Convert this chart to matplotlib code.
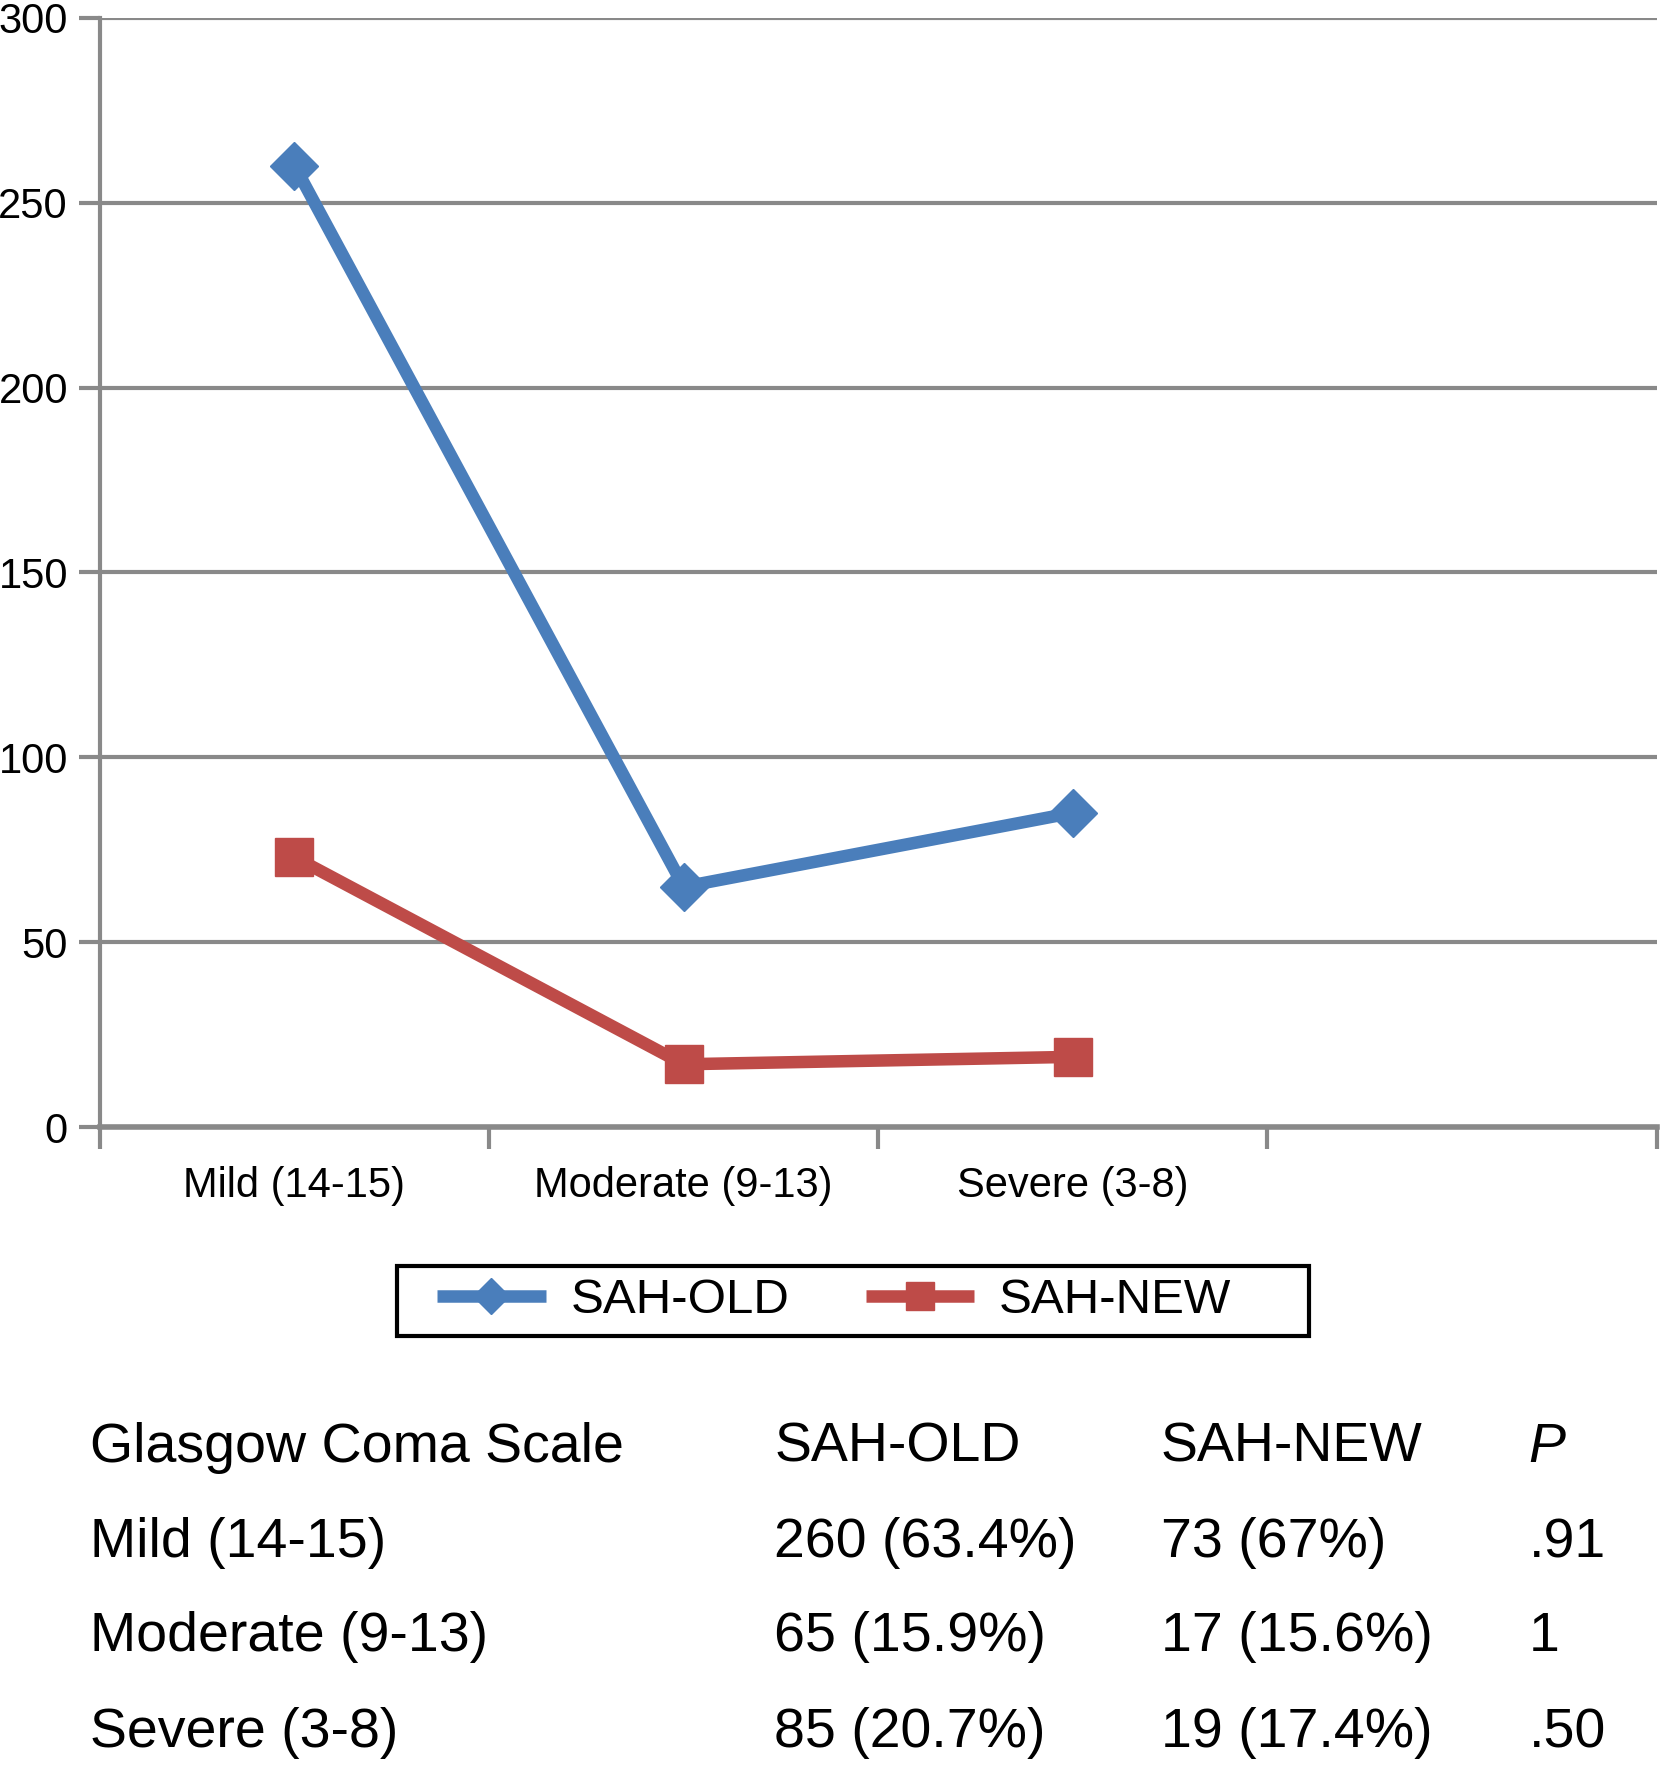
import numpy as np
import matplotlib.pyplot as plt
from matplotlib.patches import Rectangle

plt.rcParams['font.family'] = ['Liberation Sans', 'DejaVu Sans']

# data
categories = ['Mild (14-15)', 'Moderate (9-13)', 'Severe (3-8)']
sah_old = [260, 65, 85]
sah_new = [73, 17, 19]
yticks = [0, 50, 100, 150, 200, 250, 300]

# table below the chart
table_header = ['Glasgow Coma Scale', 'SAH-OLD', 'SAH-NEW', 'P']
table_rows = [
    ['Mild (14-15)', '260 (63.4%)', '73 (67%)', '.91'],
    ['Moderate (9-13)', '65 (15.9%)', '17 (15.6%)', '1'],
    ['Severe (3-8)', '85 (20.7%)', '19 (17.4%)', '.50'],
]

grey = '#898989'
blue = '#4A7EBB'
red = '#BE4B48'

fig = plt.figure(figsize=(16.65, 17.75), dpi=100)
ax = fig.add_axes([0.060, 0.365, 0.935, 0.625])

x = np.arange(len(categories))
ax.plot(x, sah_old, color=blue, lw=9, marker='D', markersize=24,
        label='SAH-OLD', solid_capstyle='butt')
ax.plot(x, sah_new, color=red, lw=9, marker='s', markersize=27,
        label='SAH-NEW', solid_capstyle='butt')

ax.set_xlim(-0.5, 3.5)
ax.set_ylim(0, 300)
ax.set_yticks(yticks)
ax.set_yticklabels([str(v) for v in yticks], fontsize=30)
ax.set_xticks(x)
ax.set_xticklabels(categories, fontsize=30)
ax.set_xticks(np.arange(-0.5, 4.0, 1.0), minor=True)
ax.tick_params(axis='x', which='major', length=0, pad=28)
ax.tick_params(axis='x', which='minor', length=16, width=3, color=grey)
ax.tick_params(axis='y', length=15, width=3, color=grey, pad=8)

ax.yaxis.grid(True, color=grey, lw=3)
ax.set_axisbelow(True)
for s in ['top', 'right']:
    ax.spines[s].set_visible(False)
ax.spines['left'].set_color(grey)
ax.spines['left'].set_linewidth(3)
ax.spines['bottom'].set_color(grey)
ax.spines['bottom'].set_linewidth(4)

# legend frame drawn separately (extra room on the right as in the original)
fig.patches.append(Rectangle((0.2385, 0.2476), 0.5477, 0.0394,
                             transform=fig.transFigure, fill=False,
                             edgecolor='black', lw=3))
fig.legend(loc='center', bbox_to_anchor=(0.5010, 0.2673), ncol=2,
           fontsize=35.5, frameon=False, handlelength=2.2,
           columnspacing=1.55, handletextpad=0.5, markerscale=0.75)

col_x = [0.054, 0.465, 0.697, 0.918]
row_y = [0.1845, 0.1305, 0.0775, 0.0235]
for j, h in enumerate(table_header):
    fig.text(col_x[j], row_y[0], h, fontsize=40, va='center', ha='left',
             style='italic' if h == 'P' else 'normal')
for i, row in enumerate(table_rows):
    for j, cell in enumerate(row):
        fig.text(col_x[j], row_y[i + 1], cell, fontsize=40, va='center', ha='left')

fig.savefig('out.png', dpi=100)
